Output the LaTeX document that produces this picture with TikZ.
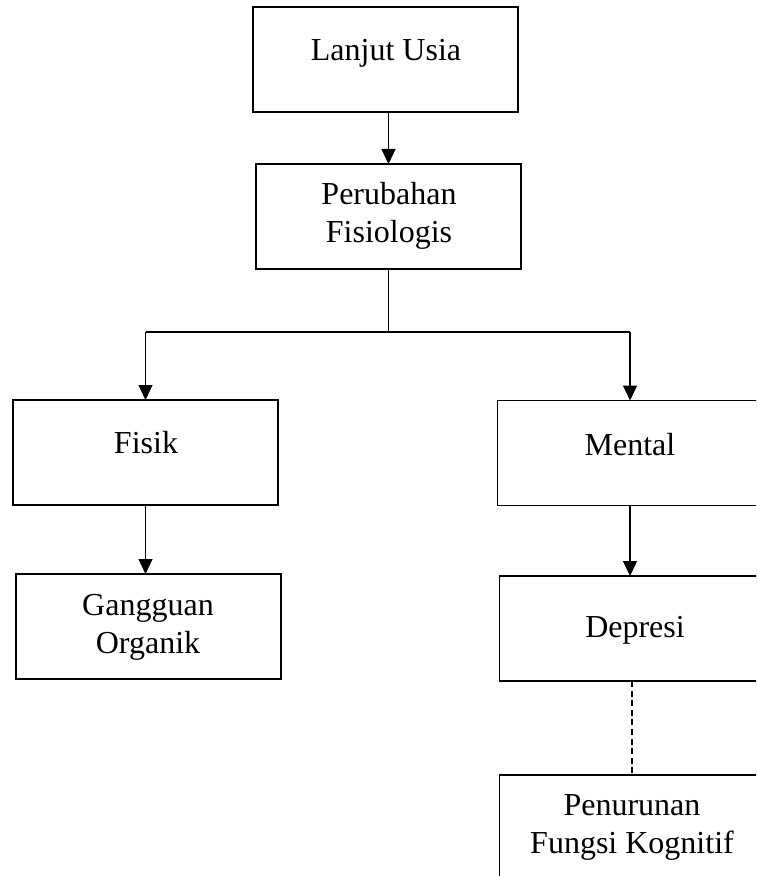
\documentclass[tikz,border=0pt]{standalone}
\usepackage{fontspec}
\setmainfont{Liberation Serif}
\usetikzlibrary{arrows.meta}
\begin{document}
\begin{tikzpicture}[x=0.5pt,y=-0.5pt,
  box/.style={draw, line width=0.65pt, minimum width=132.5pt, minimum height=52.5pt, inner sep=0pt, outer sep=0pt},
  txt/.style={font=\fontsize{16pt}{19pt}\selectfont, align=center, anchor=base, inner sep=0pt},
  link/.style={line width=0.65pt},
  arr/.style={link, -{Triangle[width=7pt,length=7.5pt]}},
  dashlink/.style={link, dash pattern=on 3pt off 1.8pt}]
\path[use as bounding box, clip] (0,0) rectangle (756,876);
% boxes
\node[box] (lu) at (385.5,59.5) {};
\node[box] (pf) at (388.5,216.5) {};
\node[box] (fi) at (145.5,452.5) {};
\node[box] (me) at (630,453) {};
\node[box] (go) at (148.5,626.5) {};
\node[box] (de) at (632,628.5) {};
\node[box] (pk) at (632,827.5) {};
% texts (base anchor = baseline of the last line)
\node[txt] (tlu) at (386,61) {Lanjut Usia};
\node[txt] (tpf) at (389,243) {Perubahan\\Fisiologis};
\node[txt] (tfi) at (146,453) {Fisik};
\node[txt] (tme) at (630,455) {Mental};
\node[txt] (tgo) at (148,653) {Gangguan\\Organik};
\node[txt] (tde) at (635,637) {Depresi};
\node[txt] (tpk) at (632,853) {Penurunan\\Fungsi Kognitif};
% connectors
\coordinate (hy) at (0,332);
\draw[arr] (pf.north |- lu.south) -- (pf.north);
\draw[link] (pf.south) -- (pf.south |- hy);
\draw[link] (fi.north |- hy) -- (me.north |- hy);
\draw[arr] (fi.north |- hy) -- (fi.north);
\draw[arr] (me.north |- hy) -- (me.north);
\draw[arr] (fi.south) -- (fi.south |- go.north);
\draw[arr] (me.south) -- (me.south |- de.north);
\draw[dashlink] (de.south) -- (de.south |- pk.north);
\end{tikzpicture}
\end{document}
